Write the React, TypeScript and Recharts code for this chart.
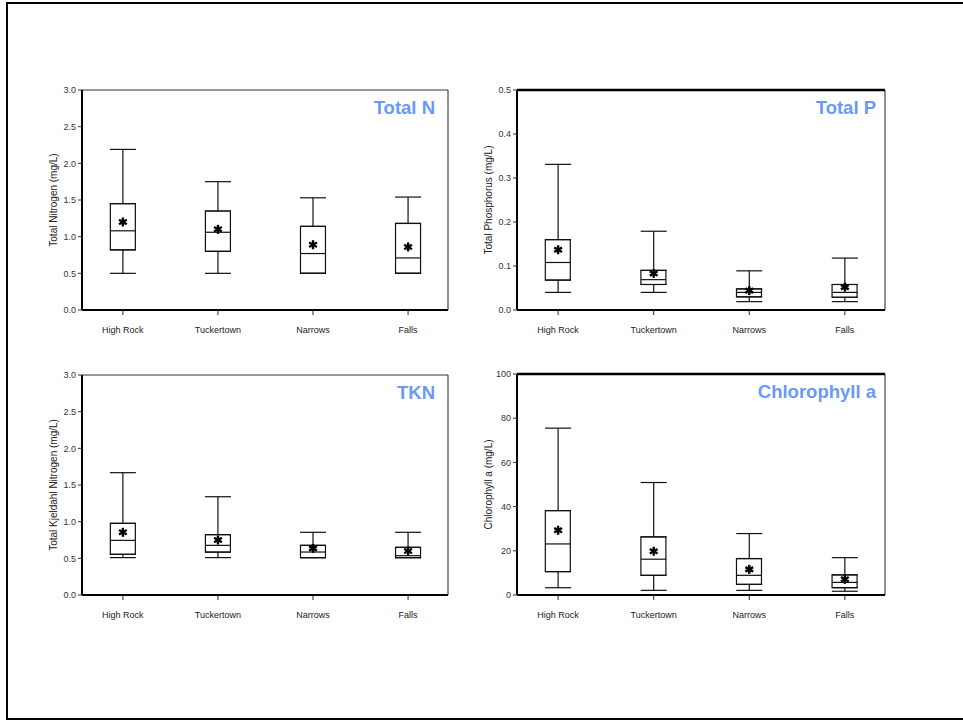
import {
  Bar,
  ComposedChart,
  ErrorBar,
  ReferenceLine,
  Scatter,
  XAxis,
  YAxis,
} from 'recharts'

const sites = ['High Rock', 'Tuckertown', 'Narrows', 'Falls']

// Total N (mg/L)
const tnMin = [0.5, 0.5, 0.5, 0.5]
const tnQ1 = [0.82, 0.8, 0.5, 0.5]
const tnMedian = [1.08, 1.06, 0.77, 0.71]
const tnQ3 = [1.45, 1.35, 1.14, 1.18]
const tnMax = [2.19, 1.75, 1.53, 1.54]
const tnMean = [1.2, 1.1, 0.89, 0.86]

// Total P (mg/L)
const tpMin = [0.04, 0.04, 0.019, 0.019]
const tpQ1 = [0.068, 0.058, 0.03, 0.029]
const tpMedian = [0.108, 0.069, 0.04, 0.04]
const tpQ3 = [0.16, 0.09, 0.048, 0.058]
const tpMax = [0.331, 0.179, 0.089, 0.118]
const tpMean = [0.137, 0.083, 0.044, 0.052]

// TKN (mg/L)
const tknMin = [0.51, 0.51, 0.51, 0.51]
const tknQ1 = [0.555, 0.585, 0.51, 0.51]
const tknMedian = [0.745, 0.677, 0.586, 0.536]
const tknQ3 = [0.977, 0.823, 0.677, 0.65]
const tknMax = [1.668, 1.34, 0.855, 0.855]
const tknMean = [0.855, 0.75, 0.636, 0.6]

// Chlorophyll a
const chlMin = [3.3, 2.1, 2.1, 1.7]
const chlQ1 = [10.6, 8.9, 4.8, 3.3]
const chlMedian = [23.1, 16.2, 8.9, 5.7]
const chlQ3 = [38.2, 26.3, 16.5, 9.1]
const chlMax = [75.5, 50.9, 27.8, 16.9]
const chlMean = [29.3, 19.8, 11.6, 7.1]

const nutrientTicks = [0, 0.5, 1, 1.5, 2, 2.5, 3]
const phosphorusTicks = [0, 0.1, 0.2, 0.3, 0.4, 0.5]
const chlTicks = [0, 20, 40, 60, 80, 100]

const X_DOMAIN: [number, number] = [-0.43, 3.42]
const BOX_W = 25
const FONT = '"Liberation Sans", Arial, Helvetica, sans-serif'
const TITLE_BLUE = '#6a98fb'

type Row = {
  x: number
  site: string
  box: [number, number]
  q1: number
  q3: number
  med: number
  mean: number
  upper: [number, number]
  lower: [number, number]
}

function buildRows(
  min: number[],
  q1: number[],
  med: number[],
  q3: number[],
  max: number[],
  mean: number[],
): Row[] {
  return sites.map((site, i) => ({
    x: i,
    site,
    box: [q1[i], q3[i]],
    q1: q1[i],
    q3: q3[i],
    med: med[i],
    mean: mean[i],
    upper: [0, max[i] - q3[i]],
    lower: [q1[i] - min[i], 0],
  }))
}

const Hidden = () => <g />

function MedianLine(props: any) {
  const { cx, cy } = props
  if (cx == null || cy == null) return <g />
  return <line x1={cx - BOX_W / 2} x2={cx + BOX_W / 2} y1={cy} y2={cy} stroke="#111" strokeWidth={1.2} />
}

// bold asterisk marking the mean
function MeanStar(props: any) {
  const { cx, cy } = props
  if (cx == null || cy == null) return <g />
  const r = 4.5
  const arms = [90, 30, 150]
  return (
    <g stroke="#000" strokeWidth={2.4} strokeLinecap="butt">
      {arms.map((a) => {
        const dx = Math.cos((a * Math.PI) / 180) * r
        const dy = Math.sin((a * Math.PI) / 180) * r
        return <line key={a} x1={cx - dx} y1={cy - dy} x2={cx + dx} y2={cy + dy} />
      })}
    </g>
  )
}

type PanelProps = {
  rows: Row[]
  plot: { left: number; top: number; right: number; bottom: number }
  yMax: number
  ticks: number[]
  fmt: (v: number) => string
  label: string
  title: string
  titleInset: number
  heavyTop?: boolean
}

function BoxPanel({ rows, plot, yMax, ticks, fmt, label, title, titleInset, heavyTop }: PanelProps) {
  const axisW = 52
  const left = plot.left - axisW
  const top = plot.top - 10
  const width = plot.right - left + 10
  const height = plot.bottom - top + 40
  // ErrorBar width is measured from the centre to each cap end
  const capHalf = (BOX_W + 1) / 2
  return (
    <>
      <div style={{ position: 'absolute', left, top, width, height }}>
        <ComposedChart
          width={width}
          height={height}
          data={rows}
          margin={{ top: 10, right: 10, left: 0, bottom: 0 }}
        >
          <XAxis
            dataKey="x"
            type="number"
            domain={X_DOMAIN}
            ticks={[0, 1, 2, 3]}
            interval={0}
            tickFormatter={(v: number) => sites[v] ?? ''}
            height={40}
            axisLine={{ stroke: '#000', strokeWidth: 2 }}
            tickLine={{ stroke: '#222' }}
            tickSize={5}
            tickMargin={12}
            tick={{ fill: '#222', fontSize: 9, fontFamily: FONT }}
          />
          <YAxis
            type="number"
            domain={[0, yMax]}
            ticks={ticks}
            interval={0}
            tickFormatter={fmt}
            width={axisW}
            axisLine={{ stroke: '#000', strokeWidth: 2 }}
            tickLine={{ stroke: '#333' }}
            tickSize={4}
            tick={{ fill: '#333', fontSize: 9, fontFamily: FONT }}
            label={{
              value: label,
              angle: -90,
              position: 'insideLeft',
              offset: 23,
              style: { textAnchor: 'middle', fontSize: 10, fontFamily: FONT, fill: '#222' },
            }}
          />
          <ReferenceLine
            y={yMax}
            stroke={heavyTop ? '#000' : '#333'}
            strokeWidth={heavyTop ? 2.5 : 1}
          />
          <ReferenceLine x={X_DOMAIN[1]} stroke="#222" strokeWidth={1} />
          <Scatter dataKey="q3" shape={Hidden} isAnimationActive={false} legendType="none">
            <ErrorBar dataKey="upper" direction="y" width={capHalf} stroke="#111" strokeWidth={1.2} isAnimationActive={false} />
          </Scatter>
          <Scatter dataKey="q1" shape={Hidden} isAnimationActive={false} legendType="none">
            <ErrorBar dataKey="lower" direction="y" width={capHalf} stroke="#111" strokeWidth={1.2} isAnimationActive={false} />
          </Scatter>
          <Bar dataKey="box" fill="#fff" stroke="#111" strokeWidth={1.2} barSize={BOX_W} isAnimationActive={false} />
          <Scatter dataKey="med" shape={MedianLine} isAnimationActive={false} legendType="none" />
          <Scatter dataKey="mean" shape={MeanStar} isAnimationActive={false} legendType="none" />
        </ComposedChart>
      </div>
      <div
        style={{
          position: 'absolute',
          right: 963 - (plot.right - titleInset),
          top: plot.top + 7,
          fontFamily: FONT,
          fontWeight: 'bold',
          fontSize: 18.5,
          color: TITLE_BLUE,
          whiteSpace: 'nowrap',
        }}
      >
        {title}
      </div>
    </>
  )
}

const one = (v: number) => v.toFixed(1)
const whole = (v: number) => String(v)

export default function App() {
  return (
    <div
      style={{
        position: 'absolute',
        left: 0,
        top: 0,
        width: 963,
        height: 721,
        background: '#fff',
        overflow: 'hidden',
      }}
    >
      <div
        style={{
          position: 'absolute',
          left: 6,
          top: 2,
          width: 980,
          height: 718,
          boxSizing: 'border-box',
          borderLeft: '2px solid #000',
          borderTop: '2px solid #000',
          borderBottom: '2px solid #000',
        }}
      />
      <BoxPanel
        rows={buildRows(tnMin, tnQ1, tnMedian, tnQ3, tnMax, tnMean)}
        plot={{ left: 82, top: 90, right: 448, bottom: 310 }}
        yMax={3}
        ticks={nutrientTicks}
        fmt={one}
        label="Total Nitrogen (mg/L)"
        title="Total N"
        titleInset={13}
      />
      <BoxPanel
        rows={buildRows(tpMin, tpQ1, tpMedian, tpQ3, tpMax, tpMean)}
        plot={{ left: 517, top: 90, right: 885, bottom: 310 }}
        yMax={0.5}
        ticks={phosphorusTicks}
        fmt={one}
        label="Total Phosphorus (mg/L)"
        title="Total P"
        titleInset={9}
        heavyTop
      />
      <BoxPanel
        rows={buildRows(tknMin, tknQ1, tknMedian, tknQ3, tknMax, tknMean)}
        plot={{ left: 82, top: 375, right: 448, bottom: 595 }}
        yMax={3}
        ticks={nutrientTicks}
        fmt={one}
        label="Total Kjeldahl Nitrogen (mg/L)"
        title="TKN"
        titleInset={13}
      />
      <BoxPanel
        rows={buildRows(chlMin, chlQ1, chlMedian, chlQ3, chlMax, chlMean)}
        plot={{ left: 517, top: 374, right: 885, bottom: 595 }}
        yMax={100}
        ticks={chlTicks}
        fmt={whole}
        label="Chlorophyll a (mg/L)"
        title="Chlorophyll a"
        titleInset={9}
        heavyTop
      />
    </div>
  )
}
